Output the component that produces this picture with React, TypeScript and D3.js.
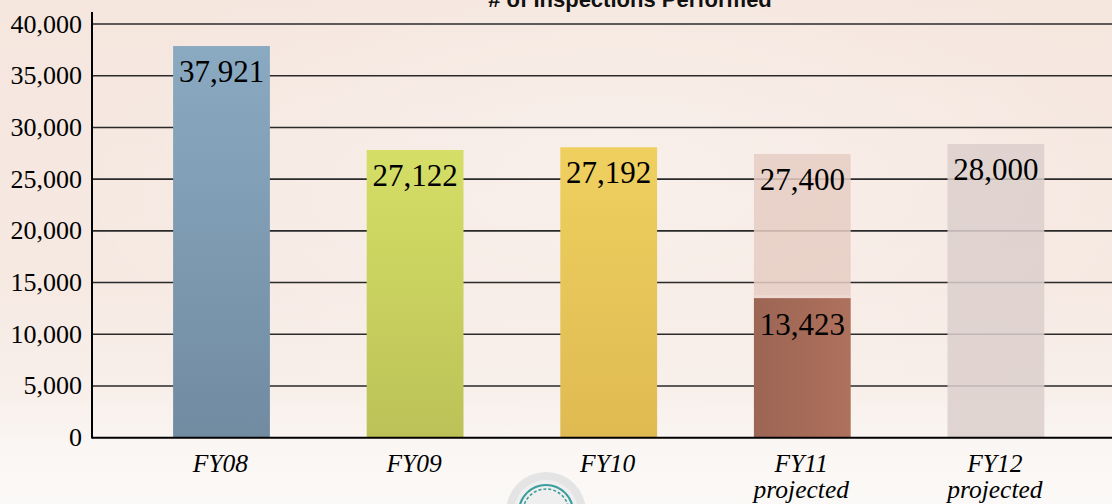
import React, { useEffect, useRef } from "react";
import * as d3 from "d3";

const categories = ["FY08", "FY09", "FY10", "FY11", "FY12"];
const subLabels = ["", "", "", "projected", "projected"];
// bar heights as drawn in the picture
const barValues = [37870, 27820, 28080, 27430, 28400];
// printed value labels
const valueLabels = [37921, 27122, 27192, 27400, 28000];
// FY11 actual-to-date portion (stacked inside the projection)
const actualValues = [0, 0, 0, 13500, 0];
const actualLabels = [0, 0, 0, 13423, 0];
const yTicks = [0, 5000, 10000, 15000, 20000, 25000, 30000, 35000, 40000];
const title = "# of Inspections Performed";

const barFills = [
  ["#8aaac2", "#718ba1"],
  ["#d5de66", "#bcc257"],
  ["#efd05f", "#dfba52"],
  ["#e6cdc3", "#e6cdc3"],
  ["#dccfcc", "#dccfcc"],
];
const barOpacity = [1, 1, 1, 0.85, 0.85];

export default function App() {
  const ref = useRef<SVGSVGElement>(null);

  useEffect(() => {
    const W = 1112, H = 504;
    const svg = d3.select(ref.current);
    svg.selectAll("*").remove();

    const defs = svg.append("defs");
    const bg = defs.append("linearGradient").attr("id", "bg").attr("x1", 0).attr("y1", 0).attr("x2", 0).attr("y2", 1);
    [["0%", "#f5e6de"], ["55%", "#f6e9e2"], ["78%", "#f8efea"], ["88%", "#faf6f3"], ["100%", "#fbf9f7"]].forEach(([o, c]) =>
      bg.append("stop").attr("offset", o).attr("stop-color", c));
    const glow = defs.append("radialGradient").attr("id", "glow").attr("cx", 0.55).attr("cy", 0.35).attr("r", 0.5);
    glow.append("stop").attr("offset", "0%").attr("stop-color", "#ffffff").attr("stop-opacity", 0.35);
    glow.append("stop").attr("offset", "100%").attr("stop-color", "#ffffff").attr("stop-opacity", 0);

    barFills.forEach((f, i) => {
      const g = defs.append("linearGradient").attr("id", "bar" + i).attr("x1", 0).attr("y1", 0).attr("x2", 0).attr("y2", 1);
      g.append("stop").attr("offset", "0%").attr("stop-color", f[0]);
      g.append("stop").attr("offset", "100%").attr("stop-color", f[1]);
    });
    const br = defs.append("linearGradient").attr("id", "brown").attr("x1", 0).attr("y1", 0).attr("x2", 1).attr("y2", 0);
    br.append("stop").attr("offset", "0%").attr("stop-color", "#9c6554");
    br.append("stop").attr("offset", "100%").attr("stop-color", "#ae715c");

    svg.append("rect").attr("width", W).attr("height", H).attr("fill", "url(#bg)");
    svg.append("rect").attr("width", W).attr("height", H).attr("fill", "url(#glow)");

    // seal at bottom
    const seal = svg.append("g").attr("transform", "translate(546,512)");
    seal.append("circle").attr("r", 40).attr("fill", "#e4e4e4");
    seal.append("circle").attr("r", 32).attr("fill", "#efefef");
    seal.append("circle").attr("r", 27).attr("fill", "none").attr("stroke", "#3a9c9c").attr("stroke-width", 2);
    seal.append("circle").attr("r", 23).attr("fill", "none").attr("stroke", "#3a9c9c").attr("stroke-width", 1.5).attr("stroke-dasharray", "3,2");

    const x0 = 92, xEnd = W;
    const y = d3.scaleLinear().domain([0, 40000]).range([437.7, 24]);
    const x = d3.scaleBand<string>().domain(categories).range([124.7, 1092.7]).paddingInner(0.5).paddingOuter(0.25);

    // title
    svg.append("text").attr("x", 630).attr("y", 6.5).attr("text-anchor", "middle")
      .attr("font-family", "Liberation Sans, Arial, sans-serif").attr("font-weight", "bold").attr("font-size", 22)
      .attr("fill", "#111").text(title);

    // gridlines
    svg.append("g").selectAll("line").data(yTicks.filter(t => t > 0)).join("line")
      .attr("x1", x0).attr("x2", xEnd).attr("y1", d => y(d)).attr("y2", d => y(d))
      .attr("stroke", "#2a2a2a").attr("stroke-width", 1.6);

    // y tick labels
    svg.append("g").selectAll("text").data(yTicks).join("text")
      .attr("x", 82).attr("y", d => y(d) + 8.5).attr("text-anchor", "end")
      .attr("font-family", "Liberation Serif, Times New Roman, serif").attr("font-size", 26).attr("fill", "#000")
      .text(d => d3.format(",")(d));

    // bars
    const bars = svg.append("g");
    categories.forEach((c, i) => {
      const bx = x(c)!;
      const bw = x.bandwidth();
      const base = actualValues[i];
      bars.append("rect").attr("x", bx).attr("width", bw)
        .attr("y", y(barValues[i])).attr("height", y(base) - y(barValues[i]))
        .attr("fill", `url(#bar${i})`).attr("opacity", barOpacity[i]);
      if (base > 0) {
        bars.append("rect").attr("x", bx).attr("width", bw)
          .attr("y", y(base)).attr("height", y(0) - y(base)).attr("fill", "url(#brown)");
        bars.append("rect").attr("x", bx).attr("width", bw)
          .attr("y", y(base) - 3).attr("height", 3).attr("fill", "#f0ddd5").attr("opacity", 0.7);
      }
    });

    // value labels
    const lab = svg.append("g").attr("font-family", "Liberation Serif, Times New Roman, serif").attr("font-size", 31).attr("fill", "#000").attr("text-anchor", "middle");
    categories.forEach((c, i) => {
      const cx = x(c)! + x.bandwidth() / 2;
      lab.append("text").attr("x", cx).attr("y", y(barValues[i]) + 36).text(d3.format(",")(valueLabels[i]));
      if (actualLabels[i] > 0) {
        lab.append("text").attr("x", cx).attr("y", y(actualValues[i]) + 37).text(d3.format(",")(actualLabels[i]));
      }
    });

    // axes lines
    svg.append("line").attr("x1", x0).attr("x2", x0).attr("y1", 12).attr("y2", 438.5).attr("stroke", "#000").attr("stroke-width", 2);
    svg.append("line").attr("x1", x0).attr("x2", xEnd).attr("y1", 437.7).attr("y2", 437.7).attr("stroke", "#000").attr("stroke-width", 2);

    // category labels
    const cl = svg.append("g").attr("font-family", "Liberation Serif, Times New Roman, serif").attr("font-style", "italic").attr("font-size", 25.5).attr("fill", "#000").attr("text-anchor", "middle");
    categories.forEach((c, i) => {
      const cx = x(c)! + x.bandwidth() / 2 - 1;
      cl.append("text").attr("x", cx).attr("y", 471.7).text(c);
      if (subLabels[i]) cl.append("text").attr("x", cx).attr("y", 498.3).text(subLabels[i]);
    });
  }, []);

  return (
    <svg ref={ref} width={1112} height={504} style={{ position: "fixed", left: 0, top: 0, display: "block" }} />
  );
}
